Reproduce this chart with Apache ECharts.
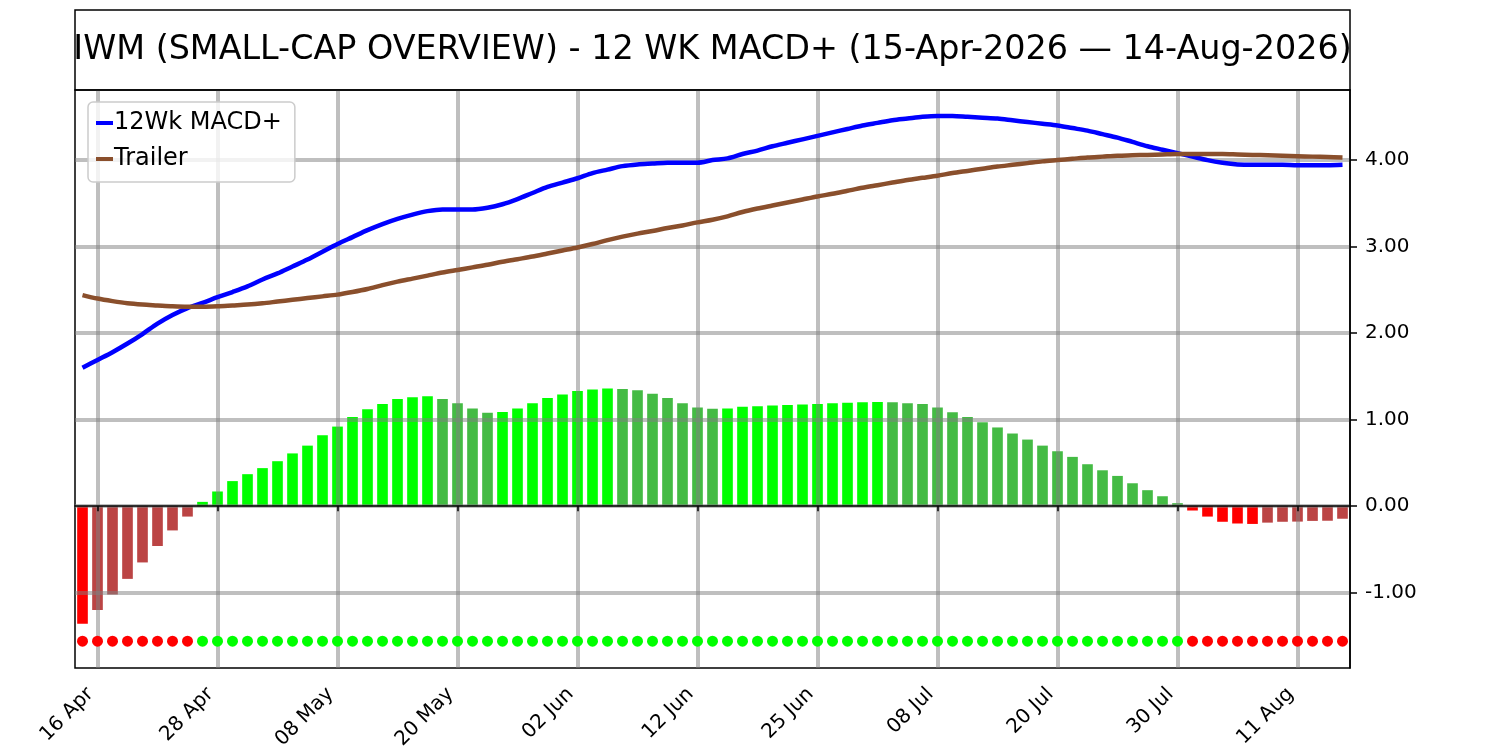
<!DOCTYPE html>
<html>
<head>
<meta charset="utf-8">
<title>IWM 12 WK MACD+</title>
<script src="https://cdn.jsdelivr.net/npm/echarts@6.0.0/dist/echarts.min.js"></script>
<style>
  html, body { margin: 0; padding: 0; background: #fff; }
  #macd-chart { width: 1500px; height: 750px; }
</style>
</head>
<body>
<div id="macd-chart"></div>
<script>
// trading days, 15-Apr-2026 .. 14-Aug-2026
var days = [
  '15 Apr', '16 Apr', '17 Apr', '20 Apr', '21 Apr', '22 Apr', '23 Apr', '24 Apr', '27 Apr', '28 Apr', '29 Apr', '30 Apr',
  '01 May', '04 May', '05 May', '06 May', '07 May', '08 May', '11 May', '12 May', '13 May', '14 May', '15 May',
  '18 May', '19 May', '20 May', '21 May', '22 May', '26 May', '27 May', '28 May', '29 May',
  '01 Jun', '02 Jun', '03 Jun', '04 Jun', '05 Jun', '08 Jun', '09 Jun', '10 Jun', '11 Jun', '12 Jun',
  '15 Jun', '16 Jun', '17 Jun', '18 Jun', '22 Jun', '23 Jun', '24 Jun', '25 Jun', '26 Jun', '29 Jun', '30 Jun',
  '01 Jul', '02 Jul', '06 Jul', '07 Jul', '08 Jul', '09 Jul', '10 Jul', '13 Jul', '14 Jul', '15 Jul', '16 Jul', '17 Jul',
  '20 Jul', '21 Jul', '22 Jul', '23 Jul', '24 Jul', '27 Jul', '28 Jul', '29 Jul', '30 Jul', '31 Jul',
  '03 Aug', '04 Aug', '05 Aug', '06 Aug', '07 Aug', '10 Aug', '11 Aug', '12 Aug', '13 Aug', '14 Aug'
];

var histValues = [
  -1.36, -1.20, -1.02, -0.84, -0.65, -0.46, -0.28, -0.12, 0.05, 0.17,
  0.29, 0.37, 0.44, 0.52, 0.61, 0.70, 0.82, 0.92, 1.03, 1.12,
  1.18, 1.24, 1.26, 1.27, 1.24, 1.19, 1.13, 1.08, 1.09, 1.13,
  1.19, 1.25, 1.29, 1.33, 1.35, 1.36, 1.355, 1.34, 1.30, 1.25,
  1.19, 1.14, 1.125, 1.13, 1.15, 1.155, 1.165, 1.17, 1.175, 1.18,
  1.19, 1.195, 1.20, 1.205, 1.20, 1.19, 1.18, 1.14, 1.085, 1.03,
  0.97, 0.91, 0.84, 0.77, 0.70, 0.635, 0.57, 0.485, 0.415, 0.35,
  0.265, 0.185, 0.115, 0.035, -0.05, -0.12, -0.18, -0.20, -0.205, -0.19,
  -0.18, -0.178, -0.17, -0.168, -0.145
];

var macdValues = [
  1.60, 1.69, 1.78, 1.88, 1.99, 2.11, 2.21, 2.29, 2.35, 2.415,
  2.475, 2.54, 2.62, 2.69, 2.77, 2.85, 2.94, 3.03, 3.11, 3.19,
  3.26, 3.32, 3.37, 3.41, 3.43, 3.43, 3.43, 3.45, 3.49, 3.55,
  3.62, 3.69, 3.74, 3.79, 3.85, 3.89, 3.93, 3.95, 3.96, 3.97,
  3.97, 3.97, 4.00, 4.02, 4.07, 4.11, 4.16, 4.20, 4.24, 4.28,
  4.32, 4.36, 4.40, 4.43, 4.46, 4.48, 4.50, 4.51, 4.51, 4.50,
  4.49, 4.48, 4.46, 4.44, 4.42, 4.40, 4.37, 4.34, 4.30, 4.26,
  4.21, 4.16, 4.12, 4.08, 4.04, 4.00, 3.97, 3.95, 3.945, 3.945,
  3.945, 3.94, 3.94, 3.94, 3.945
];

var trailerValues = [
  2.44, 2.40, 2.37, 2.345, 2.33, 2.32, 2.31, 2.305, 2.305, 2.31,
  2.32, 2.33, 2.345, 2.365, 2.385, 2.405, 2.425, 2.445, 2.475, 2.51,
  2.555, 2.595, 2.63, 2.665, 2.70, 2.73, 2.76, 2.79, 2.825, 2.855,
  2.885, 2.92, 2.955, 2.99, 3.03, 3.075, 3.115, 3.15, 3.18, 3.215,
  3.245, 3.28, 3.31, 3.35, 3.40, 3.44, 3.475, 3.51, 3.545, 3.58,
  3.61, 3.645, 3.68, 3.71, 3.74, 3.77, 3.795, 3.82, 3.85, 3.875,
  3.90, 3.925, 3.945, 3.965, 3.985, 4.00, 4.015, 4.03, 4.04, 4.05,
  4.055, 4.06, 4.065, 4.07, 4.07, 4.07, 4.07, 4.065, 4.06, 4.055,
  4.05, 4.045, 4.04, 4.035, 4.03
];

// 1 = bullish (green dot), -1 = bearish (red dot)
var signalState = [
  -1, -1, -1, -1, -1, -1, -1, -1, 1, 1,
  1, 1, 1, 1, 1, 1, 1, 1, 1, 1,
  1, 1, 1, 1, 1, 1, 1, 1, 1, 1,
  1, 1, 1, 1, 1, 1, 1, 1, 1, 1,
  1, 1, 1, 1, 1, 1, 1, 1, 1, 1,
  1, 1, 1, 1, 1, 1, 1, 1, 1, 1,
  1, 1, 1, 1, 1, 1, 1, 1, 1, 1,
  1, 1, 1, 1, -1, -1, -1, -1, -1, -1,
  -1, -1, -1, -1, -1
];
var signalLevel = -1.56;

var yTicks = [-1, 0, 1, 2, 3, 4];

var font = 'DejaVu Sans';
var gridColor = 'rgba(128,128,128,0.5)';

// histogram colours: strong when moving away from zero, muted when moving back
var barData = histValues.map(function (v, i) {
  var prev = i > 0 ? histValues[i - 1] : 0;
  var c;
  if (v < 0) {
    c = (i === 0 || v < prev) ? '#ff0000' : '#bb4444';
  } else {
    c = (v > prev) ? '#00ff00' : '#44bb44';
  }
  return { value: v, itemStyle: { color: c } };
});

var dotData = signalState.map(function (s) {
  return { value: signalLevel, itemStyle: { color: s > 0 ? '#00ff00' : '#ff0000' } };
});

var showEvery8 = function (index) {
  return index % 8 === 1;
};

var chart = echarts.init(document.getElementById('macd-chart'));

var option = {
  animation: false,
  backgroundColor: '#fff',
  textStyle: { fontFamily: font },
  grid: {
    left: 75,
    right: 150,
    top: 90,
    bottom: 82,
    show: true,
    borderColor: '#000',
    borderWidth: 1.5,
    outerBoundsMode: 'none'
  },
  graphic: [
    {
      type: 'rect',
      shape: { x: 75, y: 10, width: 1275, height: 80 },
      style: { fill: 'none', stroke: '#000', lineWidth: 1.5 },
      z: 10
    },
    {
      type: 'text',
      x: 712.5,
      y: 50,
      style: {
        text: 'IWM (SMALL-CAP OVERVIEW) - 12 WK MACD+ (15-Apr-2026 \u2014 14-Aug-2026)',
        font: '33.4px "DejaVu Sans"',
        fill: '#000',
        textAlign: 'center',
        textVerticalAlign: 'middle'
      },
      z: 10
    }
  ],
  legend: {
    left: 88,
    top: 102,
    orient: 'vertical',
    data: [
      { name: '12Wk MACD+', icon: 'rect' },
      { name: 'Trailer', icon: 'rect' }
    ],
    itemWidth: 17,
    itemHeight: 4,
    itemGap: 8,
    padding: [7, 13, 9, 8],
    backgroundColor: 'rgba(255,255,255,0.8)',
    borderColor: '#cccccc',
    borderWidth: 1.5,
    borderRadius: 5,
    textStyle: { fontFamily: font, fontSize: 24, color: '#000', lineHeight: 28, padding: [0, 0, 0, -4] },
    z: 20
  },
  xAxis: {
    type: 'category',
    data: days,
    boundaryGap: true,
    z: 3,
    axisLine: { show: true, lineStyle: { color: '#000', width: 1.5 } },
    axisTick: {
      show: true,
      alignWithLabel: true,
      interval: showEvery8,
      length: 5,
      lineStyle: { color: '#000', width: 1.5 }
    },
    axisLabel: {
      interval: showEvery8,
      rotate: 45,
      margin: 16,
      padding: [0, 10, 0, 0],
      fontSize: 20,
      fontFamily: font,
      color: '#000'
    },
    splitLine: {
      show: true,
      alignWithLabel: true,
      interval: showEvery8,
      lineStyle: { color: gridColor, width: 4 }
    }
  },
  yAxis: {
    type: 'value',
    position: 'right',
    min: -1.87,
    max: 4.81,
    z: 3,
    axisLine: { show: true, lineStyle: { color: '#000', width: 1.5 } },
    axisTick: {
      show: true,
      customValues: yTicks,
      length: 7,
      lineStyle: { color: '#000', width: 1.5 }
    },
    axisLabel: {
      customValues: yTicks,
      margin: 15,
      fontSize: 20,
      fontFamily: font,
      color: '#000',
      formatter: function (v) { return v.toFixed(2); }
    },
    splitLine: {
      show: true,
      lineStyle: { color: gridColor, width: 4 }
    }
  },
  series: [
    {
      name: 'Histogram',
      type: 'bar',
      data: barData,
      barWidth: '71%',
      z: 1
    },
    {
      name: 'Signal',
      type: 'scatter',
      data: dotData,
      symbol: 'circle',
      symbolSize: 11,
      itemStyle: { opacity: 1 },
      z: 5
    },
    {
      name: '12Wk MACD+',
      type: 'line',
      data: macdValues,
      color: '#0000ff',
      smooth: 0.3,
      showSymbol: false,
      lineStyle: { color: '#0000ff', width: 4.5 },
      z: 6
    },
    {
      name: 'Trailer',
      type: 'line',
      data: trailerValues,
      color: '#8a4f2c',
      smooth: 0.3,
      showSymbol: false,
      lineStyle: { color: '#8a4f2c', width: 4.5 },
      z: 6
    }
  ]
};

chart.setOption(option);
</script>
</body>
</html>
